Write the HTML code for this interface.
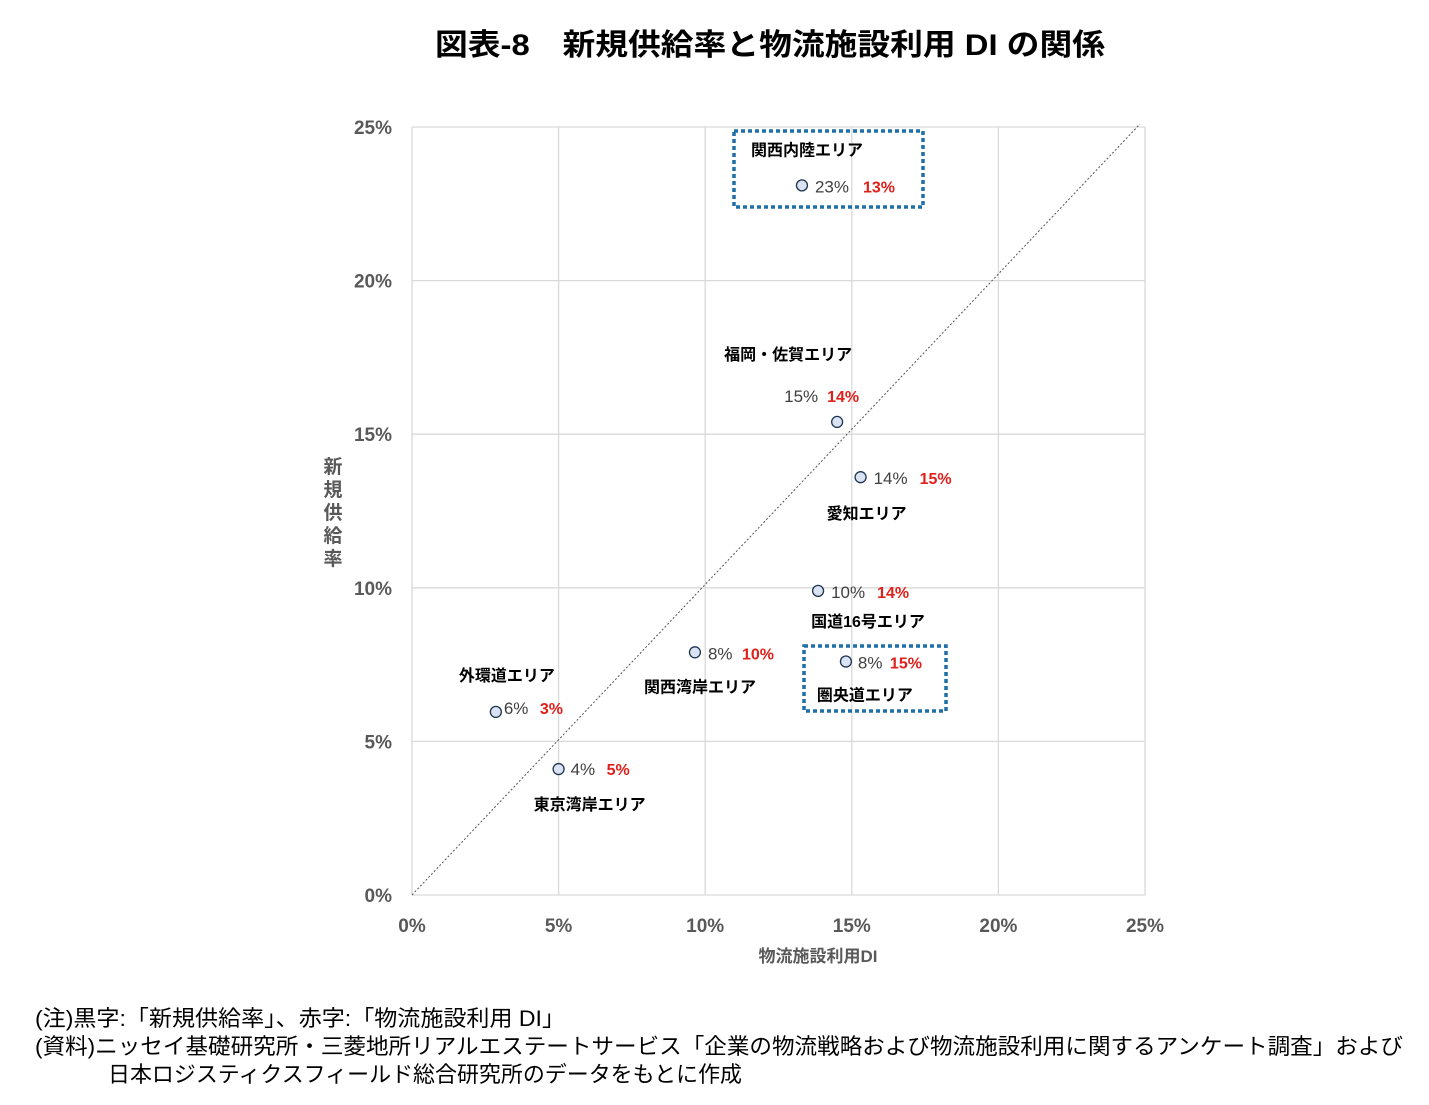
<!DOCTYPE html>
<html><head><meta charset="utf-8"><style>
html,body{margin:0;padding:0;background:#fff;}
svg text{font-family:"Liberation Sans","Noto Sans CJK JP",sans-serif;}
</style></head><body>
<svg id="chart" width="1429" height="1100" viewBox="0 0 1429 1100" xmlns="http://www.w3.org/2000/svg">
<text x="435" y="55" font-size="30" font-weight="bold" fill="#000" textLength="670" lengthAdjust="spacingAndGlyphs">図表-8　新規供給率と物流施設利用 DI の関係</text>
<g id="grid"></g>
<line x1="412" y1="895" x2="1140" y2="124" stroke="#555" stroke-width="1" stroke-dasharray="2,2"/>
<rect x="734" y="131" width="189" height="76" fill="none" stroke="#1f6fa8" stroke-width="3.5" stroke-dasharray="4,3"/>
<rect x="804" y="646" width="142" height="65" fill="none" stroke="#1f6fa8" stroke-width="3.5" stroke-dasharray="4,3"/>
<g id="ticks"></g>
<g id="points"></g>
<text x="818" y="962" font-size="17" font-weight="bold" fill="#595959" text-anchor="middle">物流施設利用DI</text>
<g font-size="19" font-weight="bold" fill="#595959" text-anchor="middle">
<text x="333" y="473">新</text><text x="333" y="496">規</text><text x="333" y="519">供</text><text x="333" y="542">給</text><text x="333" y="565">率</text>
</g>
<text x="35" y="1026" font-size="22" fill="#000" textLength="530" lengthAdjust="spacingAndGlyphs">(注)黒字:「新規供給率」、赤字:「物流施設利用 DI」</text>
<text x="35" y="1054" font-size="22" fill="#000" textLength="1368" lengthAdjust="spacingAndGlyphs">(資料)ニッセイ基礎研究所・三菱地所リアルエステートサービス「企業の物流戦略および物流施設利用に関するアンケート調査」および</text>
<text x="108" y="1082" font-size="22" fill="#000" textLength="634" lengthAdjust="spacingAndGlyphs">日本ロジスティクスフィールド総合研究所のデータをもとに作成</text>
</svg>
<script>
const areaNames=["関西内陸エリア","福岡・佐賀エリア","愛知エリア","国道16号エリア","関西湾岸エリア","圏央道エリア","外環道エリア","東京湾岸エリア"];
const diValues=[13.3,14.5,15.3,13.85,9.65,14.8,2.86,5.0];
const supplyValues=[23.1,15.4,13.6,9.9,7.9,7.6,5.96,4.1];
const supplyLabels=["23%","15%","14%","10%","8%","8%","6%","4%"];
const diLabels=["13%","14%","15%","14%","10%","15%","3%","5%"];
const xTicks=[0,5,10,15,20,25];
const yTicks=[0,5,10,15,20,25];
// label layout offsets (px relative to marker): [valueDx,valueDy,redDx,nameDx,nameDy]
const labelLayout=[[13,7,61,-51,-30],[-53,-20,-10,-113,-62],[13,7,59,-34,42],[13,7,59,-7,36],[13,7,47,-51,40],[12,7,44,-29,39],[8,2,44,-37,-31],[12,6,48,-25,41]];
const NS="http://www.w3.org/2000/svg";
const X0=412,X1=1145,Y0=895,Y1=127;
const xs=v=>X0+(X1-X0)*v/25, ys=v=>Y0-(Y0-Y1)*v/25;
function mk(t,a,p){const e=document.createElementNS(NS,t);for(const k in a)e.setAttribute(k,a[k]);p.appendChild(e);return e;}
const grid=document.getElementById('grid'),ticks=document.getElementById('ticks'),pts=document.getElementById('points');
yTicks.forEach(v=>{
 const l=mk('line',{x1:X0,x2:X1,y1:ys(v),y2:ys(v),stroke:'#d9d9d9','stroke-width':1.3},grid);
 
 
 const t=mk('text',{x:392,y:ys(v)+7,'font-size':19,'font-weight':'bold',fill:'#595959','text-anchor':'end'},ticks);
 t.textContent=v+'%';
 
 
});
xTicks.forEach(v=>{
 const l=mk('line',{x1:xs(v),x2:xs(v),y1:Y0,y2:Y1,stroke:'#d9d9d9','stroke-width':1.3},grid);
 
 
 const t=mk('text',{x:xs(v),y:932,'font-size':19,'font-weight':'bold',fill:'#595959','text-anchor':'middle'},ticks);
 t.textContent=v+'%';
 
 
});
areaNames.forEach((n,i)=>{
 const cx=xs(diValues[i]),cy=ys(supplyValues[i]),L=labelLayout[i];
 const c=mk('circle',{cx:cx,cy:cy,r:5.5,fill:'#dae3f3',stroke:'#1f3550','stroke-width':1.3},pts);
 
 
 const a=mk('text',{x:cx+L[0],y:cy+L[1],'font-size':17,fill:'#404040'},pts);
 a.textContent=supplyLabels[i];
 
 
 const b=mk('text',{x:cx+L[2],y:cy+L[1],'font-size':16,'font-weight':'bold',fill:'#e0201b'},pts);
 b.textContent=diLabels[i];
 
 
 const nm=mk('text',{x:cx+L[3],y:cy+L[4],'font-size':16,'font-weight':'bold',fill:'#000'},pts);
 nm.textContent=n;
 
 
});
</script>
</body></html>
